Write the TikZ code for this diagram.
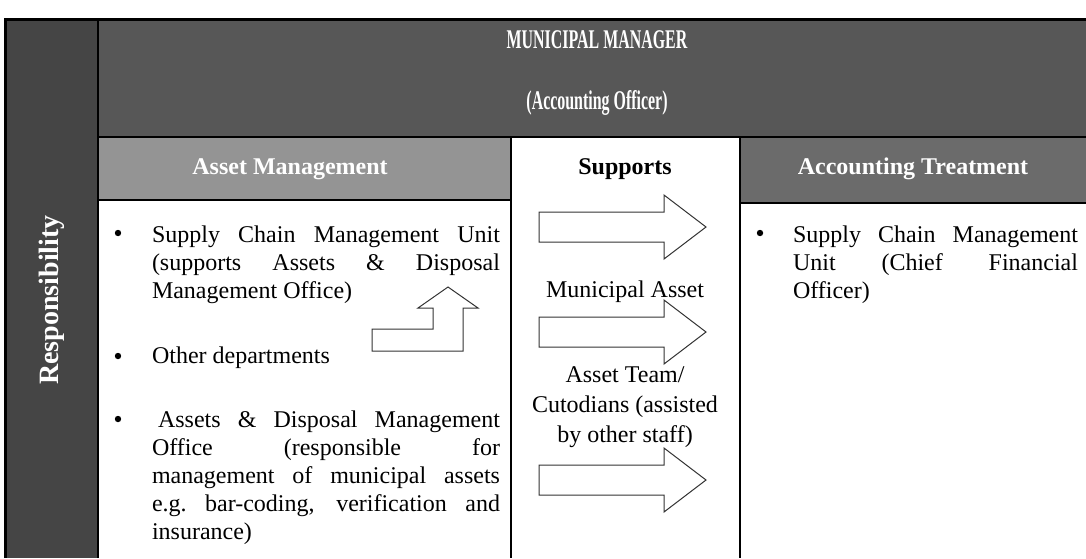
\documentclass[tikz,border=0pt]{standalone}
\usepackage{fontspec}
\setmainfont{Liberation Serif}
\usetikzlibrary{calc, math}
\usetikzlibrary{positioning}

\definecolor{respgray}{gray}{0.27}
\definecolor{bandgray}{gray}{0.34}
\definecolor{amgray}{gray}{0.58}
\definecolor{atgray}{gray}{0.42}

\begin{document}
\begin{tikzpicture}[x=0.5pt, y=-0.5pt,
    every node/.style={inner sep=0pt, outer sep=0pt},
    headtext/.style={text=white, font=\bfseries\fontsize{12}{14}\selectfont},
    bodytext/.style={font=\fontsize{12}{14}\selectfont\sloppy, align=justify, anchor=north west},
    blockarrow/.style={draw=black!80, line width=0.5pt, fill=white},
    cellline/.style={draw=black, line width=1pt}]
  \tikzmath{
    \leftx=98;
    \midx=511;
    \rightx=740;
    \bandtop=19;
    \headtop=137;
  }
  \useasboundingbox (0,0) rectangle (1086,558);

  % shaded cells
  \fill[respgray] (5,\bandtop) rectangle (\leftx,558);
  \fill[bandgray] (\leftx,\bandtop) rectangle (1086,\headtop);
  \fill[amgray] (\leftx,\headtop) rectangle (\midx,200);
  \fill[atgray] (\rightx,\headtop) rectangle (1086,203);

  % cell borders
  \draw[cellline, line width=1.5pt] (1086,\bandtop) -- (5,\bandtop) -- (5,558);
  \draw[cellline] (\leftx,\bandtop) -- (\leftx,558);
  \draw[cellline] (\leftx,\headtop) -- (1086,\headtop);
  \draw[cellline] (\leftx,200) -- (\midx,200);
  \draw[cellline] (\rightx,203) -- (1086,203);
  \draw[cellline] (\midx,\headtop) -- (\midx,558);
  \draw[cellline] (\rightx,\headtop) -- (\rightx,558);

  % headings
  \node[headtext, font=\bfseries\fontsize{13.5}{15}\selectfont] (manager) at (597,40) {\scalebox{0.59}[1]{MUNICIPAL MANAGER}};
  \node[headtext, font=\bfseries\fontsize{13.5}{15}\selectfont] (officer) at (597,103) {\scalebox{0.59}[1]{(Accounting Officer)}};
  \node[headtext, font=\bfseries\fontsize{14}{16}\selectfont, rotate=90] (resp) at (52,300) {Responsibility};
  \node[headtext, anchor=base] (assetmgmt) at (290,174) {Asset Management};
  \node[headtext, anchor=base, text=black] (supports) at (625,174) {Supports};
  \node[headtext, anchor=base] (acctreat) at (913,174) {Accounting Treatment};

  % block arrows in the middle column
  \foreach \ay in {227,332,480} {
    \draw[blockarrow] (539,\ay-15) -- (664,\ay-15) -- (664,\ay-32)
      -- (706,\ay) -- (664,\ay+32) -- (664,\ay+15) -- (539,\ay+15) -- cycle;
  }
  \node[anchor=base, font=\fontsize{12}{14}\selectfont] (munasset) at (625,297) {Municipal Asset};
  \node[anchor=north, align=center, font=\fontsize{12}{15}\selectfont] (assetteam) at (625,367)
    {Asset Team/\\Cutodians (assisted\\by other staff)};

  % bent arrow
  \draw[blockarrow] (372,329) -- (433,329) -- (433,308) -- (418,308) -- (448,287)
    -- (478,308) -- (463,308) -- (463,351) -- (372,351) -- cycle;

  % bullets
  \foreach \bx/\by in {118/233, 118/356, 118/419, 760/233} {
    \fill (\bx,\by) circle[radius=3.2];
  }

  \node[bodytext, text width=174pt] (scmu) at (152,226)
    {Supply Chain Management Unit\linebreak (supports Assets \& Disposal\linebreak Management Office)};
  \node[bodytext, text width=174pt] (otherdept) at (152,347) {Other departments};
  \node[bodytext, text width=174pt] (adoffice) at (152,411)
    {\hspace*{3pt}Assets \& Disposal Management\linebreak Office (responsible for\linebreak management of municipal assets\linebreak e.g.\ bar-coding, verification and\linebreak insurance)};
  \node[bodytext, text width=142.5pt] (scmucfo) at (793,226)
    {Supply Chain Management\linebreak Unit (Chief Financial\linebreak Officer)};
\end{tikzpicture}
\end{document}
